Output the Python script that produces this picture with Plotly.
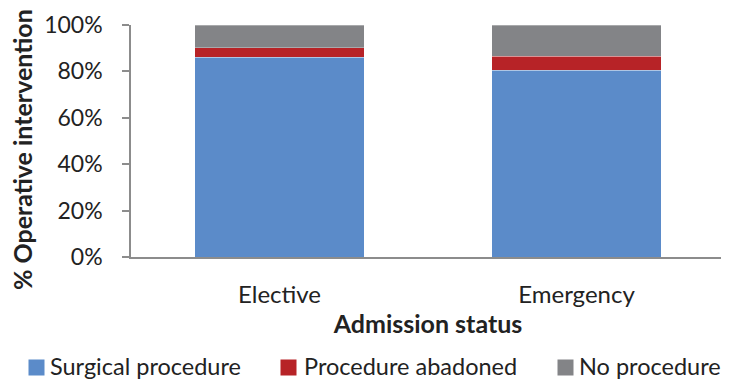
import plotly.graph_objects as go

categories = ["Elective", "Emergency"]
series_names = ["Surgical procedure", "Procedure abadoned", "No procedure"]
surgical = [86.2, 80.5]
abandoned = [4.0, 6.0]
no_proc = [9.8, 13.5]
y_ticks = [0, 20, 40, 60, 80, 100]
y_tick_labels = ["0%", "20%", "40%", "60%", "80%", "100%"]

colors = ["#5B8BC9", "#B72327", "#838487"]
FONT = "Lato, Open Sans, sans-serif"
TXT = "#222222"

# page has an 8px body margin; size the figure so it ends at the window edge
OFF = 8
W, H = 729 - OFF, 379 - OFF
l, t = 131 - OFF, 25 - OFF
r = W - (725.5 - OFF)
b = H - (257 - OFF)
pw, ph = W - l - r, H - t - b


def px(x):  # screen x -> paper x
    return (x - OFF - l) / pw


def py(y):  # screen y -> paper y
    return 1 - (y - OFF - t) / ph


fig = go.Figure()
for name, vals, col in zip(series_names, [surgical, abandoned, no_proc], colors):
    fig.add_trace(go.Bar(x=categories, y=vals, name=name, marker_color=col,
                         marker_line=dict(width=0.6, color="rgba(255,255,255,0.5)"),
                         width=0.572, showlegend=False))

# legend laid out as in the original (one row at the bottom)
key_x = [28, 280, 557]
label_x = [49, 303, 578]
for name, col, kx, lx in zip(series_names, colors, key_x, label_x):
    fig.add_annotation(x=px(kx), y=py(367.5), xref="paper", yref="paper",
                       showarrow=False, text=" ", bgcolor=col, width=15, height=15,
                       borderpad=0, xanchor="left", yanchor="middle",
                       font=dict(size=10))
    fig.add_annotation(x=px(lx), y=py(366), xref="paper", yref="paper",
                       showarrow=False, text=name, borderpad=0,
                       font=dict(size=23.5, color=TXT, family=FONT),
                       xanchor="left", yanchor="middle")

# y-axis title (placed like the original, slightly below the plot centre)
fig.add_annotation(x=px(22), y=py(150), xref="paper", yref="paper",
                   showarrow=False, text="<b>% Operative intervention</b>",
                   textangle=-90, font=dict(size=25, color=TXT, family=FONT),
                   xanchor="center", yanchor="middle", borderpad=0)

fig.update_layout(
    width=W, height=H, barmode="stack",
    margin=dict(l=l, r=r, t=t, b=b, autoexpand=False),
    plot_bgcolor="white", paper_bgcolor="white",
    font=dict(family=FONT, size=24, color=TXT),
    showlegend=False,
    xaxis=dict(showline=True, linecolor="#8c8c8c", linewidth=1.5, automargin=False,
               ticks="", ticklabelstandoff=15, tickfont=dict(size=24),
               title=dict(text="<b>Admission status</b>", font=dict(size=25), standoff=7)),
    yaxis=dict(range=[0, 100], tickvals=y_ticks, ticktext=y_tick_labels, automargin=False,
               showline=True, linecolor="#8c8c8c", linewidth=1.5,
               ticks="outside", ticklen=7, tickcolor="#8c8c8c", tickwidth=1.5,
               ticklabelstandoff=15, showgrid=False, zeroline=False,
               tickfont=dict(size=23)),
)
fig.write_html("out.html")
